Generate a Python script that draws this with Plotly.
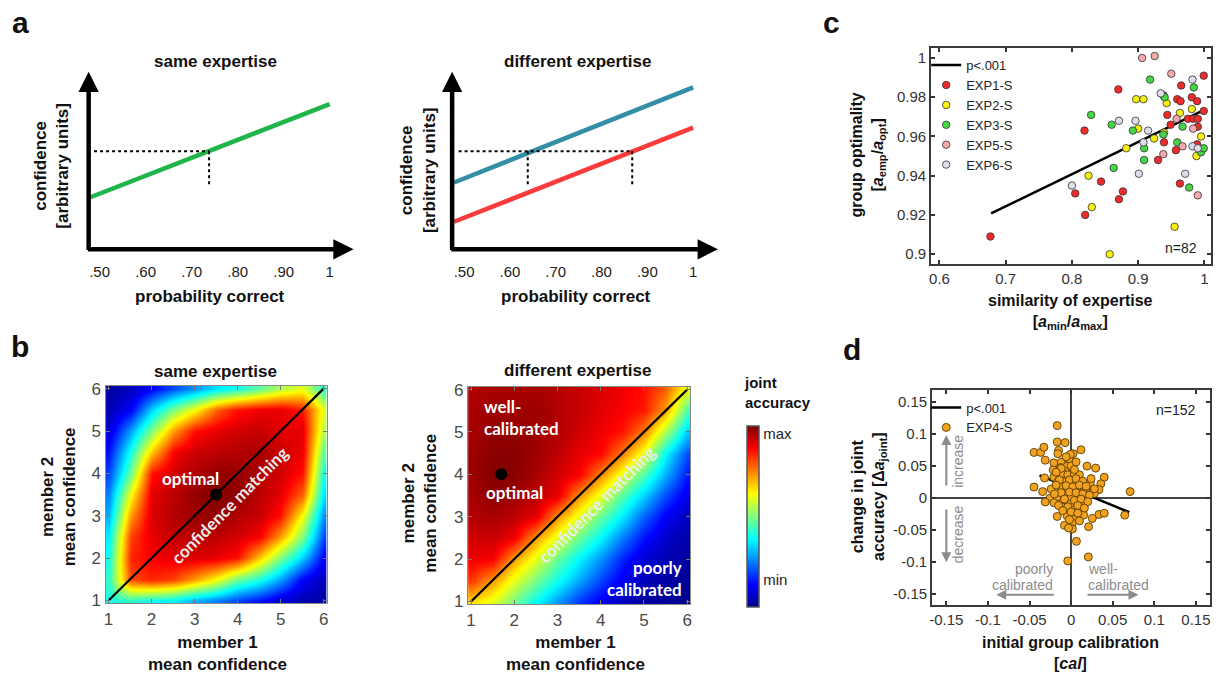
import plotly.graph_objects as go

W, H = 1219, 686
ARIAL = "Liberation Sans, Arial, sans-serif"
LATO = "Lato, sans-serif"

# ---------------- panel a (schematic lines) ----------------
A_TICKVALS = [0.5, 0.6, 0.7, 0.8, 0.9, 1.0]
A_TICKTEXT = [".50", ".60", ".70", ".80", ".90", "1"]
a_same_x = [0.48, 1.0]
a_same_y = [0.293, 0.818]
a_same_match_p = 0.738
a_conf_level = 0.552
a_drop_bottom = 0.355
a_dot_start = 0.488
a_diff_x = [0.478, 1.0]
a_diff_high_y = [0.376, 0.912]
a_diff_low_y = [0.155, 0.685]
a_diff_match_p = [0.639, 0.867]

# ---------------- panel b (heatmaps) ----------------
b_grid = [1.0, 1.5, 2.0, 2.5, 3.0, 3.5, 4.0, 4.5, 5.0, 5.5, 6.0]
# rows: member 2 confidence (y = 1 ... 6), columns: member 1 confidence (x = 1 ... 6)
z_same = [
    [0.40, 0.42, 0.39, 0.36, 0.30, 0.25, 0.19, 0.14, 0.08, 0.04, 0.02],
    [0.42, 0.80, 0.84, 0.81, 0.72, 0.62, 0.48, 0.40, 0.28, 0.12, 0.05],
    [0.39, 0.84, 0.88, 0.90, 0.91, 0.90, 0.86, 0.68, 0.50, 0.33, 0.12],
    [0.36, 0.81, 0.90, 0.93, 0.95, 0.94, 0.92, 0.88, 0.72, 0.50, 0.20],
    [0.30, 0.72, 0.91, 0.95, 0.97, 0.98, 0.95, 0.93, 0.86, 0.62, 0.27],
    [0.25, 0.62, 0.90, 0.94, 0.98, 1.00, 0.98, 0.94, 0.90, 0.78, 0.35],
    [0.19, 0.48, 0.86, 0.92, 0.95, 0.98, 0.98, 0.95, 0.92, 0.86, 0.40],
    [0.14, 0.40, 0.68, 0.88, 0.93, 0.94, 0.95, 0.96, 0.93, 0.89, 0.47],
    [0.08, 0.28, 0.50, 0.72, 0.86, 0.90, 0.92, 0.93, 0.90, 0.90, 0.55],
    [0.04, 0.12, 0.33, 0.50, 0.62, 0.78, 0.86, 0.89, 0.90, 0.85, 0.60],
    [0.02, 0.05, 0.12, 0.20, 0.27, 0.35, 0.40, 0.47, 0.55, 0.60, 0.42],
]
z_diff = [
    [0.66, 0.60, 0.49, 0.38, 0.28, 0.18, 0.11, 0.05, 0.02, 0.01, 0.00],
    [0.82, 0.72, 0.60, 0.49, 0.39, 0.29, 0.19, 0.11, 0.05, 0.02, 0.01],
    [0.89, 0.88, 0.72, 0.60, 0.48, 0.37, 0.27, 0.16, 0.08, 0.04, 0.02],
    [0.92, 0.93, 0.89, 0.72, 0.60, 0.48, 0.37, 0.25, 0.14, 0.07, 0.03],
    [0.95, 0.96, 0.94, 0.90, 0.73, 0.60, 0.47, 0.36, 0.22, 0.12, 0.05],
    [0.96, 0.985, 0.97, 0.94, 0.90, 0.73, 0.60, 0.46, 0.33, 0.20, 0.10],
    [0.97, 0.995, 0.99, 0.96, 0.92, 0.88, 0.74, 0.60, 0.45, 0.30, 0.15],
    [0.97, 0.99, 0.99, 0.97, 0.94, 0.90, 0.87, 0.75, 0.60, 0.38, 0.20],
    [0.96, 0.98, 0.98, 0.97, 0.95, 0.92, 0.89, 0.86, 0.75, 0.55, 0.33],
    [0.96, 0.97, 0.97, 0.97, 0.95, 0.93, 0.90, 0.88, 0.85, 0.72, 0.45],
    [0.95, 0.96, 0.96, 0.96, 0.95, 0.93, 0.91, 0.89, 0.86, 0.78, 0.60],
]
b_diag = [1, 6]
b_opt_same = (3.5, 3.5)
b_opt_diff = (1.7, 4.0)

# ---------------- panel c ----------------
c_exp1_x = [0.677, 0.819, 0.870, 0.805, 0.820, 0.844, 0.877, 0.871, 0.930, 0.939, 0.944, 0.949, 0.938, 0.965,
            0.959, 0.964, 0.957, 0.963, 0.981, 0.989, 0.999, 0.999, 0.975, 0.983, 0.990, 0.990, 0.989]
c_exp1_y = [0.909, 0.963, 0.984, 0.931, 0.920, 0.937, 0.932, 0.928, 0.948, 0.957, 0.971, 0.966, 0.981, 0.986,
            0.979, 0.978, 0.953, 0.936, 0.980, 0.978, 0.991, 0.973, 0.969, 0.969, 0.969, 0.965, 0.956]
c_exp2_x = [0.857, 0.825, 0.830, 0.882, 0.897, 0.908, 0.900, 0.924, 0.939, 0.943, 0.963, 0.981, 0.955, 0.988, 0.995]
c_exp2_y = [0.900, 0.940, 0.924, 0.954, 0.979, 0.979, 0.964, 0.959, 0.962, 0.977, 0.972, 0.974, 0.914, 0.950, 0.960]
c_exp3_x = [0.829, 0.860, 0.863, 0.892, 0.918, 0.909, 0.909, 0.938, 0.940, 0.959, 0.967, 0.977, 0.984, 0.995, 0.999]
c_exp3_y = [0.971, 0.966, 0.944, 0.963, 0.989, 0.954, 0.948, 0.961, 0.980, 0.957, 0.965, 0.934, 0.985, 0.952, 0.954]
c_exp5_x = [0.906, 0.925, 0.950, 0.938, 0.958, 0.967, 0.983, 0.990]
c_exp5_y = [1.000, 1.001, 0.992, 0.951, 0.969, 0.955, 0.964, 0.930]
c_exp6_x = [0.800, 0.871, 0.896, 0.915, 0.908, 0.901, 0.934, 0.971, 0.982, 0.982, 0.990]
c_exp6_y = [0.935, 0.968, 0.968, 0.963, 0.957, 0.941, 0.982, 0.941, 0.989, 0.955, 0.954]
c_fit_x = [0.678, 0.999]
c_fit_y = [0.9208, 0.9734]
C_XTICKS = [0.6, 0.7, 0.8, 0.9, 1.0]
C_XTEXT = ["0.6", "0.7", "0.8", "0.9", "1"]
C_YTICKS = [0.90, 0.92, 0.94, 0.96, 0.98, 1.00]
C_YTEXT = ["0.9", "0.92", "0.94", "0.96", "0.98", "1"]

# ---------------- panel d ----------------
d_x = [-0.0167, -0.0167, -0.0072, -0.0446, -0.0366, -0.0327, -0.0151, -0.0159, 0.0024, 0.0119,
       -0.0311, -0.0207, -0.0119, -0.0024, -0.0008, 0.0191, 0.0295, -0.0215, -0.0127, -0.0048,
       -0.0068, 0.0032, -0.0207, -0.0135, -0.0056, 0.0032, 0.0112, 0.0398, -0.0319, -0.0167,
       -0.0088, 0.0012, 0.0231, 0.0358, -0.0446, -0.0342, -0.0239, -0.0127, -0.0048, 0.0072,
       0.0175, 0.0271, 0.0335, 0.0709, -0.0255, -0.0167, -0.0088, -0.0008, 0.0096, 0.0191,
       0.0279, -0.0311, -0.0207, -0.0127, -0.0008, 0.0072, 0.0151, -0.0096, 0.0032, 0.0112,
       -0.0167, -0.0048, 0.0052, 0.0151, 0.0335, 0.0398, 0.0255, 0.0645, 0.0012, 0.0016,
       0.0064, -0.0040, 0.0207, 0.0210, -0.0080, -0.0030,
       -0.010, -0.004, 0.004, 0.010, -0.014, -0.002, 0.006, 0.014, -0.018, -0.006,
       0.002, 0.010, 0.018, -0.012, -0.002, 0.006, 0.014, 0.022, -0.020, -0.008,
       0.004, 0.012, 0.020, -0.015, -0.004, 0.008, 0.016, -0.010, 0.000, 0.008,
       -0.002, 0.010, -0.012, 0.000, 0.006, -0.006, 0.004, -0.018, 0.024, 0.028]
d_y = [0.1128, 0.0872, 0.0862, 0.0709, 0.0709, 0.0791, 0.0740, 0.0689, 0.0689, 0.0750,
       0.0587, 0.0546, 0.0556, 0.0607, 0.0679, 0.0495, 0.0464, 0.0434, 0.0474, 0.0495,
       0.0408, 0.0423, 0.0321, 0.0311, 0.0332, 0.0321, 0.0270, 0.0321, 0.0311, 0.0240,
       0.0250, 0.0230, 0.0240, 0.0219, 0.0168, 0.0097, 0.0138, 0.0168, 0.0148, 0.0158,
       0.0128, 0.0117, 0.0128, 0.0097, -0.0005, 0.0015, 0.0036, 0.0015, 0.0026, 0.0046,
       0.0066, -0.0066, -0.0077, -0.0097, -0.0097, -0.0066, -0.0117, -0.0148, -0.0189, -0.0199,
       -0.0291, -0.0281, -0.0311, -0.0270, -0.0260, -0.0240, -0.0321, -0.0270, -0.0393, -0.0485,
       -0.0679, -0.0985, -0.0923, -0.0450, -0.0430, -0.0470,
       0.038, 0.036, 0.037, 0.036, 0.028, 0.028, 0.030, 0.026, 0.020, 0.019,
       0.017, 0.020, 0.018, 0.008, 0.009, 0.008, 0.006, 0.004, 0.006, -0.002,
       -0.004, -0.002, -0.006, -0.012, -0.014, -0.012, -0.016, -0.020, -0.022, -0.024,
       -0.034, -0.036, 0.046, 0.050, 0.056, 0.064, 0.044, 0.040, 0.030, 0.014]
d_fit_x = [-0.038, 0.070]
d_fit_y = [0.035, -0.0225]
D_TICKS = [-0.15, -0.1, -0.05, 0, 0.05, 0.1, 0.15]
D_TEXT = ["-0.15", "-0.1", "-0.05", "0", "0.05", "0.1", "0.15"]

JET = [[0, "rgb(0,0,143)"], [0.125, "rgb(0,0,255)"], [0.375, "rgb(0,255,255)"],
       [0.625, "rgb(255,255,0)"], [0.875, "rgb(255,0,0)"], [1, "rgb(128,0,0)"]]


def dx(a, b):
    return [a / W, b / W]


def dy(top, bottom):
    return [1 - bottom / H, 1 - top / H]


fig = go.Figure()

# ----- panel a traces -----
fig.add_trace(go.Scatter(x=a_same_x, y=a_same_y, mode="lines", line=dict(color="#1fb54b", width=4.5),
                         xaxis="x", yaxis="y", showlegend=False, hoverinfo="skip"))
fig.add_trace(go.Scatter(x=[a_dot_start, a_same_match_p, None, a_same_match_p, a_same_match_p],
                         y=[a_conf_level, a_conf_level, None, a_conf_level, a_drop_bottom],
                         mode="lines", line=dict(color="black", width=2, dash="dot"),
                         xaxis="x", yaxis="y", showlegend=False, hoverinfo="skip"))
fig.add_trace(go.Scatter(x=a_diff_x, y=a_diff_high_y, mode="lines", line=dict(color="#348ea6", width=4.5),
                         xaxis="x2", yaxis="y2", showlegend=False, hoverinfo="skip"))
fig.add_trace(go.Scatter(x=a_diff_x, y=a_diff_low_y, mode="lines", line=dict(color="#fb3b3b", width=4.5),
                         xaxis="x2", yaxis="y2", showlegend=False, hoverinfo="skip"))
fig.add_trace(go.Scatter(x=[a_dot_start, a_diff_match_p[1], None,
                            a_diff_match_p[0], a_diff_match_p[0], None,
                            a_diff_match_p[1], a_diff_match_p[1]],
                         y=[a_conf_level, a_conf_level, None, a_conf_level, a_drop_bottom, None,
                            a_conf_level, a_drop_bottom],
                         mode="lines", line=dict(color="black", width=2, dash="dot"),
                         xaxis="x2", yaxis="y2", showlegend=False, hoverinfo="skip"))

# ----- panel b traces -----
fig.add_trace(go.Heatmap(x=b_grid, y=b_grid, z=z_same, coloraxis="coloraxis", zsmooth="best",
                         xaxis="x3", yaxis="y3", hoverinfo="skip"))
fig.add_trace(go.Heatmap(x=b_grid, y=b_grid, z=z_diff, coloraxis="coloraxis", zsmooth="best",
                         xaxis="x4", yaxis="y4", hoverinfo="skip"))
for xa, ya, opt in (("x3", "y3", b_opt_same), ("x4", "y4", b_opt_diff)):
    fig.add_trace(go.Scatter(x=b_diag, y=b_diag, mode="lines", line=dict(color="black", width=2.2),
                             xaxis=xa, yaxis=ya, showlegend=False, hoverinfo="skip"))
    fig.add_trace(go.Scatter(x=[opt[0]], y=[opt[1]], mode="markers",
                             marker=dict(color="black", size=12),
                             xaxis=xa, yaxis=ya, showlegend=False, hoverinfo="skip"))

# ----- panel c traces -----
fig.add_trace(go.Scatter(x=c_fit_x, y=c_fit_y, mode="lines", name="p<.001",
                         line=dict(color="black", width=2.5), xaxis="x5", yaxis="y5", legend="legend"))
c_series = [("EXP1-S", c_exp1_x, c_exp1_y, "#ee2a2a"),
            ("EXP2-S", c_exp2_x, c_exp2_y, "#f7ef10"),
            ("EXP3-S", c_exp3_x, c_exp3_y, "#45d645"),
            ("EXP5-S", c_exp5_x, c_exp5_y, "#f3a9ad"),
            ("EXP6-S", c_exp6_x, c_exp6_y, "#dcdcec")]
for name, xs, ys, col in c_series:
    fig.add_trace(go.Scatter(x=xs, y=ys, mode="markers", name=name,
                             marker=dict(color=col, size=7.5, line=dict(color="#333", width=0.8)),
                             xaxis="x5", yaxis="y5", legend="legend"))

# ----- panel d traces -----
fig.add_trace(go.Scatter(x=d_fit_x, y=d_fit_y, mode="lines", name="p<.001",
                         line=dict(color="black", width=2.5), xaxis="x6", yaxis="y6", legend="legend2"))
fig.add_trace(go.Scatter(x=d_x, y=d_y, mode="markers", name="EXP4-S",
                         marker=dict(color="#f2a21e", size=8, line=dict(color="#5a3c00", width=0.9)),
                         xaxis="x6", yaxis="y6", legend="legend2"))

# ----- axes -----
hidden = dict(showgrid=False, zeroline=False, showline=False, showticklabels=False, ticks="")


def a_xaxis(domain, rng):
    return dict(domain=domain, range=rng, tickvals=A_TICKVALS, ticktext=A_TICKTEXT, ticks="",
                showgrid=False, zeroline=False, showline=False, ticklabelstandoff=12,
                tickfont=dict(family=ARIAL, size=15, color="#222"))


def heat_axis(domain, anchor):
    return dict(domain=domain, anchor=anchor, range=[0.93, 6.07], tickvals=[1, 2, 3, 4, 5, 6],
                ticks="inside", ticklen=4, tickcolor="#777", showline=True, mirror="ticks",
                linecolor="#888", linewidth=1.2, showgrid=False, zeroline=False,
                tickfont=dict(family=ARIAL, size=17, color="#4a4a4a"))


def box_axis(domain, anchor, rng, tv, tt):
    return dict(domain=domain, anchor=anchor, range=rng, tickvals=tv, ticktext=tt,
                ticks="inside", ticklen=4, tickwidth=1.5, tickcolor="#333", showline=True,
                mirror="ticks", linecolor="#3a3a3a", linewidth=2, showgrid=False, zeroline=False,
                tickfont=dict(family=ARIAL, size=15, color="#333"))


layout = dict(
    width=W, height=H, margin=dict(l=0, r=0, t=0, b=0), autosize=False,
    paper_bgcolor="white", plot_bgcolor="rgba(0,0,0,0)",
    xaxis=dict(anchor="y", **a_xaxis(dx(80, 354), [0.4632, 1.0563])),
    yaxis=dict(domain=dy(67, 248), anchor="x", range=[0, 1], **hidden),
    xaxis2=dict(anchor="y2", **a_xaxis(dx(445, 720), [0.4609, 1.0587])),
    yaxis2=dict(domain=dy(67, 248), anchor="x2", range=[0, 1], **hidden),
    xaxis3=heat_axis(dx(103, 325), "y3"),
    yaxis3=heat_axis(dy(387, 609), "x3"),
    xaxis4=heat_axis(dx(467, 690), "y4"),
    yaxis4=heat_axis(dy(388, 610), "x4"),
    xaxis5=box_axis(dx(932, 1213), "y5", [0.5875, 1.01], C_XTICKS, C_XTEXT),
    yaxis5=box_axis(dy(43, 263), "x5", [0.895, 1.005], C_YTICKS, C_YTEXT),
    xaxis6=box_axis(dx(933, 1212), "y6", [-0.167, 0.167], D_TICKS, D_TEXT),
    yaxis6=box_axis(dy(391, 611), "x6", [-0.168, 0.169], D_TICKS, D_TEXT),
    coloraxis=dict(colorscale=JET, cmin=0, cmax=1,
                   colorbar=dict(x=747 / W, xanchor="left", xpad=0, y=1 - 613 / H, yanchor="bottom",
                                 ypad=0, len=185 / H, lenmode="fraction", thickness=12,
                                 outlinewidth=1.5, outlinecolor="#555",
                                 tickvals=[0.962, 0.151], ticktext=["max", "min"], ticks="",
                                 tickfont=dict(family=ARIAL, size=15, color="#222"))),
    legend=dict(x=927 / W, y=1 - 45 / H, xanchor="left", yanchor="top", bgcolor="rgba(0,0,0,0)",
                font=dict(family=ARIAL, size=13, color="#222"), itemwidth=30, tracegroupgap=0),
    legend2=dict(x=927 / W, y=1 - 394 / H, xanchor="left", yanchor="top", bgcolor="rgba(0,0,0,0)",
                 font=dict(family=ARIAL, size=13, color="#222"), itemwidth=30, tracegroupgap=0),
)
fig.update_layout(**layout)
fig.update_layout(xaxis6=dict(zeroline=True, zerolinecolor="#444", zerolinewidth=1.5),
                  yaxis6=dict(zeroline=True, zerolinecolor="#444", zerolinewidth=1.5))

ann = []


def ptxt(text, x, y, size=17, bold=True, angle=0, family=ARIAL, color="#111", xanchor="center", align="center"):
    ann.append(dict(text=f"<b>{text}</b>" if bold else text, x=x / W, y=1 - y / H, xref="paper",
                    yref="paper", showarrow=False, textangle=angle, xanchor=xanchor, yanchor="middle",
                    align=align, font=dict(family=family, size=size, color=color)))


# panel letters
ptxt("a", 18, 17, size=30)
ptxt("b", 17, 347, size=30)
ptxt("c", 832, 17, size=30)
ptxt("d", 852, 350, size=30)
# panel a texts
ptxt("same expertise", 213, 57)
ptxt("different expertise", 577, 57)
ptxt("probability correct", 208, 296)
ptxt("probability correct", 575, 296)
ptxt("confidence<br>[arbitrary units]", 49, 163, angle=-90)
ptxt("confidence<br>[arbitrary units]", 417, 167, angle=-90)
# panel b texts
ptxt("same expertise", 213, 373)
ptxt("different expertise", 577, 372)
ptxt("member 1<br>mean confidence", 215, 660)
ptxt("member 1<br>mean confidence", 575, 660)
ptxt("member 2<br>mean confidence", 56, 500, angle=-90)
ptxt("member 2<br>mean confidence", 418, 507, angle=-90)
ptxt("joint<br>accuracy", 742, 394, size=15, xanchor="left", align="left")
# panel c / d titles
ptxt("group optimality<br>[<i>a</i><sub>emp</sub>/<i>a</i><sub>opt</sub>]", 869, 152, size=16, angle=-90)
ptxt("similarity of expertise<br>[<i>a</i><sub>min</sub>/<i>a</i><sub>max</sub>]", 1072, 312, size=16)
ptxt("change in joint<br>accuracy [Δ<i>a</i><sub>joint</sub>]", 869, 500, size=16, angle=-90)
ptxt("initial group calibration<br>[<i>cal</i>]", 1072, 660, size=16)


def dtxt(text, x, y, xr, yr, size=17, color="white", angle=0, xanchor="center", align="center",
         family=LATO, bold=True):
    ann.append(dict(text=f"<b>{text}</b>" if bold else text, x=x, y=y, xref=xr, yref=yr,
                    showarrow=False, textangle=angle, xanchor=xanchor, yanchor="middle", align=align,
                    font=dict(family=family, size=size, color=color)))


dtxt("optimal", 2.91, 3.87, "x3", "y3")
dtxt("confidence matching", 3.8, 3.25, "x3", "y3", color="#ececec", angle=-45)
dtxt("well-<br>calibrated", 1.25, 5.35, "x4", "y4", xanchor="left", align="left")
dtxt("optimal", 2.0, 3.57, "x4", "y4")
dtxt("confidence matching", 3.9, 3.3, "x4", "y4", color="#ececec", angle=-45)
dtxt("poorly<br>calibrated", 5.92, 1.55, "x4", "y4", xanchor="right", align="right")
# n labels
dtxt("n=82", 0.9925, 0.9033, "x5", "y5", size=14, color="#222", xanchor="right", family=ARIAL, bold=False)
dtxt("n=152", 0.152, 0.137, "x6", "y6", size=14, color="#222", xanchor="right", family=ARIAL, bold=False)
# panel d gray hints
GRAY = "#8c8c8c"
dtxt("increase", -0.136, 0.0577, "x6", "y6", size=14, color=GRAY, angle=-90, family=ARIAL, bold=False)
dtxt("decrease", -0.136, -0.057, "x6", "y6", size=14, color=GRAY, angle=-90, family=ARIAL, bold=False)
dtxt("poorly", -0.019, -0.1118, "x6", "y6", size=14, color=GRAY, xanchor="right", family=ARIAL, bold=False)
dtxt("calibrated", -0.019, -0.1363, "x6", "y6", size=14, color=GRAY, xanchor="right", family=ARIAL, bold=False)
dtxt("well-", 0.018, -0.1118, "x6", "y6", size=14, color=GRAY, xanchor="left", family=ARIAL, bold=False)
dtxt("calibrated", 0.018, -0.1363, "x6", "y6", size=14, color=GRAY, xanchor="left", family=ARIAL, bold=False)


def arrow(x, y, ax, ay, xr, yr, color, width, size):
    ann.append(dict(x=x, y=y, ax=ax, ay=ay, xref=xr, yref=yr, axref=xr, ayref=yr, text="",
                    showarrow=True, arrowhead=2, arrowsize=size, arrowwidth=width, arrowcolor=color,
                    standoff=0, startstandoff=0))


# axis arrows of panel a
arrow(0.4762, 1.0, 0.4762, -0.012, "x", "y", "black", 4.5, 0.9)
arrow(1.052, 0.0, 0.4715, 0.0, "x", "y", "black", 4.5, 0.9)
arrow(0.4739, 1.0, 0.4739, -0.012, "x2", "y2", "black", 4.5, 0.9)
arrow(1.054, 0.0, 0.4690, 0.0, "x2", "y2", "black", 4.5, 0.9)
# gray arrows in panel d
arrow(-0.150, 0.098, -0.150, 0.017, "x6", "y6", GRAY, 2, 1)
arrow(-0.150, -0.1005, -0.150, -0.016, "x6", "y6", GRAY, 2, 1)
arrow(-0.090, -0.1515, -0.019, -0.1515, "x6", "y6", GRAY, 2, 1)
arrow(0.081, -0.1515, 0.018, -0.1515, "x6", "y6", GRAY, 2, 1)

fig.update_layout(annotations=ann)
fig.write_html("out.html", config={"displayModeBar": False},
               post_script="document.body.style.margin='0';document.body.style.overflow='hidden';")
